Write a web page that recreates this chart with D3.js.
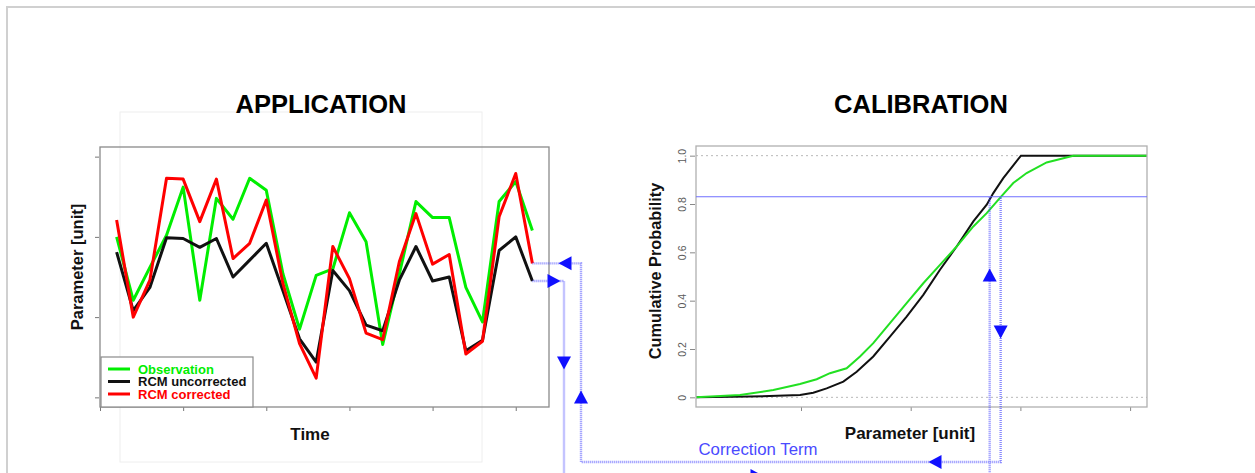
<!DOCTYPE html>
<html>
<head>
<meta charset="utf-8">
<script src="https://cdn.jsdelivr.net/npm/d3@7"></script>
<style>
  body { margin: 0; background: #fff; }
  text { font-family: "Liberation Sans", Arial, Helvetica, sans-serif; }
</style>
</head>
<body>
<div id="chart"></div>
<script>
// time series (application panel)
const timeSteps = [1,2,3,4,5,6,7,8,9,10,11,12,13,14,15,16,17,18,19,20,21,22,23,24,25,26];
const observation    = [2.0,1.21,1.62,2.02,2.62,1.21,2.48,2.22,2.73,2.58,1.54,0.85,1.52,1.6,2.3,1.94,0.66,1.54,2.44,2.24,2.24,1.37,0.94,2.44,2.69,2.08];
const rcmUncorrected = [1.81,1.08,1.37,1.99,1.98,1.87,1.98,1.5,1.71,1.92,1.33,0.73,0.44,1.58,1.33,0.9,0.83,1.46,1.88,1.45,1.5,0.58,0.71,1.83,2.0,1.45];
const rcmCorrected   = [2.21,1.0,1.46,2.73,2.72,2.19,2.72,1.73,1.92,2.46,1.42,0.67,0.24,1.88,1.48,0.8,0.72,1.69,2.29,1.66,1.78,0.54,0.7,2.25,2.79,1.67];
const appXTicks = [0,5,10,15,20,25];
const appYTicks = [0,1,2,3];

// cumulative distributions (calibration panel)
const cdfObsX = [0.043,0.444,0.748,0.991,1.143,1.264,1.416,1.538,1.659,1.811,1.963,2.115,2.267,2.419,2.571,2.693,2.814,2.935,3.057,3.239,3.482,4.154];
const cdfObsP = [0,0.01,0.03,0.055,0.075,0.1,0.12,0.169,0.224,0.307,0.39,0.472,0.548,0.624,0.707,0.762,0.825,0.887,0.928,0.972,1.0,1.0];
const cdfRcmX = [0.043,0.535,0.991,1.112,1.234,1.386,1.508,1.659,1.811,1.963,2.115,2.267,2.419,2.571,2.693,2.753,2.844,3.005,4.154];
const cdfRcmP = [0,0.003,0.01,0.019,0.037,0.065,0.106,0.169,0.251,0.334,0.424,0.528,0.624,0.728,0.797,0.845,0.907,1.0,1.0];
const calXTicks = [1,2,3,4];
const calYTicks = [0,0.2,0.4,0.6,0.8,1.0];
const calYLabels = ["0","0.2","0.4","0.6","0.8","1.0"];
const quantileP = 0.83;
const rcmAtQuantile = 2.72;
const obsAtQuantile = 2.82;

const legendItems = [
  {label: "Observation", color: "#00ee00"},
  {label: "RCM uncorrected", color: "#111111"},
  {label: "RCM corrected", color: "#ff0000"}
];

const width = 1255, height = 473;
const svg = d3.select("#chart").append("svg").attr("width", width).attr("height", height);

// page border
svg.append("path").attr("d", "M7,473V7H1255").attr("fill", "none")
  .attr("stroke", "#d0d0d0").attr("stroke-width", 2);

const blue = "#3c3cff";

// ---------- APPLICATION ----------
const app = {left: 100, right: 549, top: 147, bottom: 407};
const xL = d3.scaleLinear().domain([0, 27]).range([app.left, app.right]);
const yL = d3.scaleLinear().domain([-0.12, 3.12]).range([app.bottom, app.top]);

svg.append("rect").attr("x", 120).attr("y", 112).attr("width", 362).attr("height", 350)
  .attr("fill", "none").attr("stroke", "#eeeeee");

svg.append("text").attr("x", 321).attr("y", 113).attr("text-anchor", "middle")
  .attr("font-size", 25.5).attr("font-weight", "bold").text("APPLICATION");

const axL = svg.append("g").attr("color", "#777");
axL.append("g").attr("transform", "translate(0," + app.bottom + ")")
  .call(d3.axisBottom(xL).tickValues(appXTicks).tickSize(4).tickFormat(""))
  .call(g => g.select(".domain").remove());
axL.append("g").attr("transform", "translate(" + (app.left - 1) + ",0)")
  .call(d3.axisLeft(yL).tickValues(appYTicks).tickSize(4).tickFormat(""))
  .call(g => g.select(".domain").remove());

const lineL = d3.line().x((d, i) => xL(timeSteps[i])).y(d => yL(d));
[[observation, "#00ee00"], [rcmUncorrected, "#111"], [rcmCorrected, "#ff0000"]]
  .forEach(([s, c]) => {
    svg.append("path").datum(s).attr("d", lineL).attr("fill", "none")
      .attr("stroke", c).attr("stroke-width", 3).attr("stroke-linejoin", "round");
  });

svg.append("rect").attr("x", app.left).attr("y", app.top)
  .attr("width", app.right - app.left).attr("height", app.bottom - app.top)
  .attr("fill", "none").attr("stroke", "#8a8a8a").attr("stroke-width", 1.3);

// legend
const leg = svg.append("g").attr("transform", "translate(101,357)");
leg.append("rect").attr("width", 152).attr("height", 50).attr("fill", "#fff")
  .attr("stroke", "#8a8a8a").attr("stroke-width", 1.2);
legendItems.forEach((d, i) => {
  const y = 12 + i * 12.5;
  leg.append("line").attr("x1", 7).attr("x2", 29).attr("y1", y).attr("y2", y)
    .attr("stroke", d.color).attr("stroke-width", 3);
  leg.append("text").attr("x", 37).attr("y", y + 4.5).attr("font-size", 13)
    .attr("font-weight", "bold").attr("fill", d.color).text(d.label);
});

svg.append("text").attr("x", 310).attr("y", 440).attr("text-anchor", "middle")
  .attr("font-size", 17).attr("font-weight", "bold").attr("fill", "#111").text("Time");
svg.append("text").attr("transform", "translate(83,267) rotate(-90)").attr("text-anchor", "middle")
  .attr("font-size", 16.5).attr("font-weight", "bold").attr("fill", "#111").text("Parameter [unit]");

// ---------- CALIBRATION ----------
const cal = {left: 696, right: 1147, top: 146, bottom: 407};
const xR = d3.scaleLinear().domain([0.043, 4.154]).range([cal.left, cal.right]);
const yR = d3.scaleLinear().domain([-0.04, 1.04]).range([cal.bottom, cal.top]);

svg.append("text").attr("x", 921).attr("y", 113).attr("text-anchor", "middle")
  .attr("font-size", 25.5).attr("font-weight", "bold").text("CALIBRATION");

const axR = svg.append("g").attr("color", "#888");
axR.append("g").attr("transform", "translate(0," + cal.bottom + ")")
  .call(d3.axisBottom(xR).tickValues(calXTicks).tickSize(4).tickFormat(""))
  .call(g => g.select(".domain").remove());
const yAx = axR.append("g").attr("transform", "translate(" + (cal.left - 1) + ",0)")
  .call(d3.axisLeft(yR).tickValues(calYTicks).tickSize(5).tickFormat((d, i) => calYLabels[i]))
  .call(g => g.select(".domain").remove());
yAx.selectAll("text").attr("fill", "#5a5a5a").attr("font-size", 10.5)
  .attr("font-family", "Liberation Sans, Arial, sans-serif")
  .attr("x", null).attr("dy", null).attr("text-anchor", "middle")
  .attr("transform", "translate(-9,0) rotate(-90)");

// dotted reference lines at 0 and 1
[0, 1].forEach(p => {
  svg.append("line").attr("x1", cal.left).attr("x2", cal.right).attr("y1", yR(p)).attr("y2", yR(p))
    .attr("stroke", "#b8b8b8").attr("stroke-dasharray", "2,3");
});

const lineR = d3.line().x(d => xR(d[0])).y(d => yR(d[1]));
svg.append("path").datum(d3.zip(cdfRcmX, cdfRcmP)).attr("d", lineR).attr("fill", "none")
  .attr("stroke", "#111").attr("stroke-width", 2);
svg.append("path").datum(d3.zip(cdfObsX, cdfObsP)).attr("d", lineR).attr("fill", "none")
  .attr("stroke", "#22e022").attr("stroke-width", 2);

svg.append("rect").attr("x", cal.left).attr("y", cal.top)
  .attr("width", cal.right - cal.left).attr("height", cal.bottom - cal.top)
  .attr("fill", "none").attr("stroke", "#b0b0b0").attr("stroke-width", 1.3);

// quantile line
svg.append("line").attr("x1", cal.left).attr("x2", cal.right)
  .attr("y1", yR(quantileP)).attr("y2", yR(quantileP))
  .attr("stroke", "#6f6fff").attr("stroke-width", 1);

svg.append("text").attr("x", 910).attr("y", 439).attr("text-anchor", "middle")
  .attr("font-size", 17).attr("font-weight", "bold").attr("fill", "#111").text("Parameter [unit]");
svg.append("text").attr("transform", "translate(661,271) rotate(-90)").attr("text-anchor", "middle")
  .attr("font-size", 16.3).attr("font-weight", "bold").attr("fill", "#111").text("Cumulative Probability");

// ---------- connectors ----------
const lastI = timeSteps.length - 1;
const xEnd = xL(timeSteps[lastI]);
const yRed = yL(rcmCorrected[lastI]);
const yBlack = yL(rcmUncorrected[lastI]);
const xRcmQ = xR(rcmAtQuantile), xObsQ = xR(obsAtQuantile), yQ = yR(quantileP);
const laneBlack = 564, laneRed = 581, lowBlack = 476, lowRed = 462;

const conn = svg.append("g").attr("fill", "none").attr("stroke", blue)
  .attr("stroke-width", 2.4).attr("stroke-dasharray", "1,1").attr("opacity", 0.6);
conn.append("path").attr("d", d3.line()([[xEnd, yRed], [laneRed, yRed], [laneRed, lowRed], [xObsQ, lowRed], [xObsQ, yQ]]));
conn.append("path").attr("d", d3.line()([[xEnd, yBlack], [laneBlack, yBlack], [laneBlack, lowBlack], [xRcmQ, lowBlack], [xRcmQ, yQ]]));

function arrow(x, y, dir) {
  const L = 13, H = 7;
  const pts = {
    left:  [[x - L / 2, y], [x + L / 2, y - H], [x + L / 2, y + H]],
    right: [[x + L / 2, y], [x - L / 2, y - H], [x - L / 2, y + H]],
    up:    [[x, y - L / 2], [x - H, y + L / 2], [x + H, y + L / 2]],
    down:  [[x, y + L / 2], [x - H, y - L / 2], [x + H, y - L / 2]]
  }[dir];
  svg.append("path").attr("d", "M" + pts.join("L") + "Z").attr("fill", "#1010ff");
}
arrow(565, yRed, "left");
arrow(554, yBlack, "right");
arrow(laneBlack, 363, "down");
arrow(laneRed, 397, "up");
arrow(935, lowRed, "left");
arrow(757, lowBlack, "right");
arrow(xRcmQ, 275, "up");
arrow(xObsQ, 332, "down");

svg.append("text").attr("x", 758).attr("y", 455).attr("text-anchor", "middle")
  .attr("font-size", 16.8).attr("fill", "#4a4aff").text("Correction Term");
</script>
</body>
</html>
